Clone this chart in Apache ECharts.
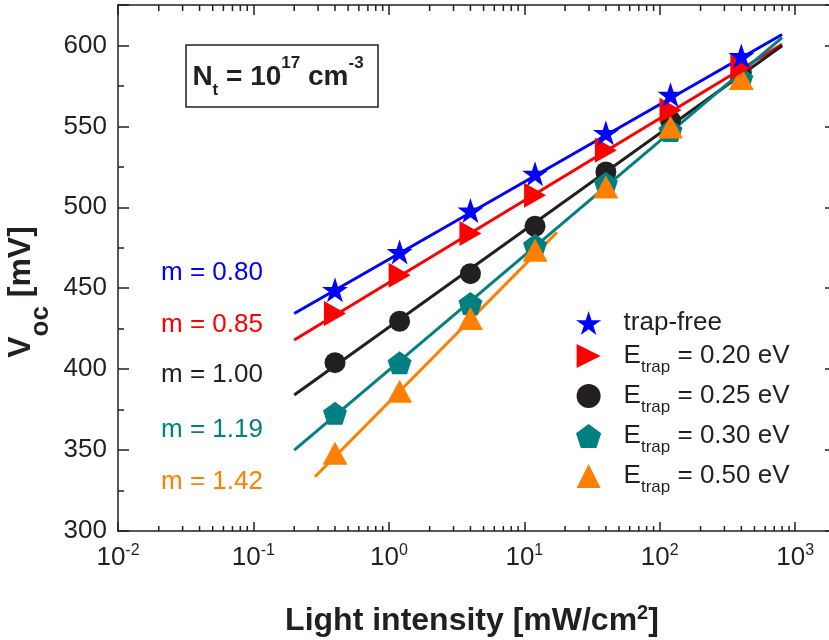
<!DOCTYPE html>
<html><head><meta charset="utf-8">
<script src="https://cdn.jsdelivr.net/npm/echarts@6/dist/echarts.min.js"></script>
<style>html,body{margin:0;padding:0;background:#fff}#c{width:829px;height:640px}</style>
</head><body><div id="c"></div>
<script>
// ---------- data ----------
const intensity = [0.4, 1.2, 4, 12, 40, 120, 400];
const vocTrapFree = [449, 472.4, 498, 520.8, 546, 569.5, 593.5];
const vocE020 = [434.4, 458, 483.8, 507.4, 535.2, 559.9, 586.6];
const vocE025 = [404, 429.6, 459, 488.3, 521.8, 553.7, 583.5];
const vocE030 = [372.7, 403.9, 440.6, 476.5, 514.8, 547.5, 579.6];
const vocE050 = [348, 386.4, 431.3, 473.5, 512.5, 549.6, 579.6];
// fitted lines (end points)
const fitTrapFreeX = [0.2, 800], fitTrapFreeY = [434.4, 606.8];
const fitE020X = [0.2, 800], fitE020Y = [418, 600.8];
const fitE025X = [0.2, 800], fitE025Y = [384, 599.8];
const fitE030X = [0.2, 800], fitE030Y = [350, 604.8];
const fitE050X = [0.285, 17.4], fitE050Y = [333.5, 484.5];
const slopeLabels = ['m = 0.80', 'm = 0.85', 'm = 1.00', 'm = 1.19', 'm = 1.42'];
const legendNames = ['trap-free', 'E020', 'E025', 'E030', 'E050'];
const legendTexts = ['trap-free', '0.20 eV', '0.25 eV', '0.30 eV', '0.50 eV'];
const minorXTicks = [0.02,0.03,0.04,0.05,0.06,0.07,0.08,0.09,
  0.2,0.3,0.4,0.5,0.6,0.7,0.8,0.9, 2,3,4,5,6,7,8,9,
  20,30,40,50,60,70,80,90, 200,300,400,500,600,700,800,900];
const xMin = 0.01, xMax = 2000, yMin = 300, yMax = 625;

// ---------- style ----------
const FONT = '"Liberation Sans", Arial, Helvetica, sans-serif';
const INK = '#231f20';
const COLORS = ['#0000ff', '#ff0000', '#231f20', '#008080', '#ff8000'];
const STAR = 'path://M0,-1 L0.2245,-0.309 L0.951,-0.309 L0.363,0.118 L0.588,0.809 L0,0.382 L-0.588,0.809 L-0.363,0.118 L-0.951,-0.309 L-0.2245,-0.309 Z';
const RTRI = 'path://M0,0 L1,0.5 L0,1 Z';
const UTRI = 'path://M0.5,0 L1,1 L0,1 Z';
const PENT = 'path://M0,-1 L0.951,-0.309 L0.588,0.809 L-0.588,0.809 L-0.951,-0.309 Z';
const SYMBOLS = [STAR, RTRI, 'circle', PENT, UTRI];
const SIZES = [[26, 25], [22, 25], 21, [24, 23], [25, 23]];

const pts = [vocTrapFree, vocE020, vocE025, vocE030, vocE050];
const fits = [[fitTrapFreeX, fitTrapFreeY], [fitE020X, fitE020Y], [fitE025X, fitE025Y], [fitE030X, fitE030Y], [fitE050X, fitE050Y]];

const series = [];
fits.forEach((f, i) => {
  series.push({
    type: 'line', name: 'fit' + i, data: f[0].map((x, k) => [x, f[1][k]]),
    showSymbol: false, symbol: 'none', lineStyle: { color: COLORS[i], width: 3 },
    z: 2, silent: true, xAxisIndex: 0, yAxisIndex: 0
  });
});
// scatter order: black, teal, orange, red, blue (last on top)
[2, 3, 4, 1, 0].forEach(i => {
  series.push({
    type: 'scatter', name: legendNames[i], data: intensity.map((x, k) => [x, pts[i][k]]),
    symbol: SYMBOLS[i], symbolSize: SIZES[i], symbolKeepAspect: false,
    itemStyle: { color: COLORS[i], opacity: 1 }, z: 3, xAxisIndex: 0, yAxisIndex: 0
  });
});
series.push({
  type: 'custom', name: 'minorTicks', data: minorXTicks.map(v => [v, yMin]), silent: true,
  xAxisIndex: 0, yAxisIndex: 0, clip: false, z: 5,
  renderItem: function (params, api) {
    const v = api.value(0);
    const b = api.coord([v, yMin]);
    const t = api.coord([v, yMax]);
    return { type: 'group', children: [
      { type: 'line', shape: { x1: b[0], y1: b[1], x2: b[0], y2: b[1] - 5 }, style: { stroke: INK, lineWidth: 1.5 } },
      { type: 'line', shape: { x1: t[0], y1: t[1], x2: t[0], y2: t[1] + 6 }, style: { stroke: INK, lineWidth: 1.5 } }
    ] };
  }
});

function xLabel(v) {
  const l = Math.log10(v); const e = Math.round(l);
  if (Math.abs(l - e) > 1e-6 || e > 3) return '';
  return '{b|10}{s|' + e + '}';
}

const axisLineStyle = { lineStyle: { color: INK, width: 1.5 } };
const option = {
  animation: false,
  backgroundColor: '#fff',
  grid: { left: 118, top: 5, right: -7, bottom: 109, containLabel: false, outerBoundsMode: 'none' },
  xAxis: [{
    type: 'log', logBase: 10, min: xMin, max: xMax, position: 'bottom',
    axisLine: axisLineStyle, splitLine: { show: false },
    axisTick: { inside: true, length: 9, lineStyle: { color: INK, width: 1.5 } },
    axisLabel: { margin: 12, formatter: xLabel, showMaxLabel: false, color: INK,
      rich: { b: { fontSize: 26, fontFamily: FONT, color: INK, lineHeight: 30 },
              s: { fontSize: 16, fontFamily: FONT, color: INK, lineHeight: 16, verticalAlign: 'top' } } },
    name: '{b|Light intensity [mW/cm}{s|2}{b|]}', nameLocation: 'middle', nameGap: 72,
    nameTextStyle: { padding: [0, 10, 0, 0], rich: {
      b: { fontSize: 32, fontWeight: 'bold', fontFamily: FONT, color: INK, lineHeight: 36 },
      s: { fontSize: 20, fontWeight: 'bold', fontFamily: FONT, color: INK, lineHeight: 14, verticalAlign: 'top' } } }
  }, {
    type: 'log', logBase: 10, min: xMin, max: xMax, position: 'top',
    axisLine: axisLineStyle, splitLine: { show: false },
    axisTick: { inside: true, length: 10, lineStyle: { color: INK, width: 1.5 } },
    axisLabel: { show: false }
  }],
  yAxis: [{
    type: 'value', min: yMin, max: yMax, interval: 50, position: 'left',
    axisLine: { show: true, lineStyle: { color: INK, width: 1.5 } }, splitLine: { show: false },
    axisTick: { inside: true, length: 11, lineStyle: { color: INK, width: 1.5 } },
    minorTick: { show: true, splitNumber: 2, length: 6, lineStyle: { color: INK, width: 1.5 } },
    axisLabel: { margin: 11, fontSize: 26, fontFamily: FONT, color: INK, showMaxLabel: false,
      formatter: v => (v % 50 === 0 ? String(v) : '') }
  }, {
    type: 'value', min: yMin, max: yMax, interval: 50, position: 'right',
    axisLine: { show: true, lineStyle: { color: INK, width: 1.5 } }, splitLine: { show: false },
    axisTick: { inside: true, length: 11, lineStyle: { color: INK, width: 1.5 } },
    minorTick: { show: true, splitNumber: 2, length: 6, lineStyle: { color: INK, width: 1.5 } },
    axisLabel: { show: false }
  }],
  legend: {
    orient: 'vertical', left: 576, top: 310, padding: 0, itemGap: 7,
    itemWidth: 60, itemHeight: 24, selectedMode: false,
    data: legendNames.map((n, i) => ({ name: n, icon: SYMBOLS[i] })),
    formatter: function (name) {
      const i = legendNames.indexOf(name);
      if (i === 0) return '{t|trap-free}';
      return '{e|E}{s|trap}{e| = ' + legendTexts[i] + '}';
    },
    textStyle: { color: INK, fontFamily: FONT, fontSize: 26, rich: {
      t: { fontSize: 26, fontFamily: FONT, color: INK, lineHeight: 22 },
      e: { fontSize: 26, fontFamily: FONT, color: INK, lineHeight: 40 },
      s: { fontSize: 17, fontFamily: FONT, color: INK, lineHeight: 17, verticalAlign: 'bottom' } } }
  },
  graphic: [
    { type: 'rect', shape: { x: 186, y: 45, width: 192, height: 62 }, style: { fill: 'none', stroke: INK, lineWidth: 1.5 }, z: 10 },
    { type: 'text', x: 278, y: 77, z: 10, style: {
      text: '{b|N}{sb|t}{b| = 10}{sp|17}{b| cm}{sp|-3}', align: 'center', verticalAlign: 'middle',
      textAlign: 'center', textVerticalAlign: 'middle',
      rich: { b: { fontSize: 28, fontWeight: 'bold', fontFamily: FONT, fill: INK, lineHeight: 44 },
              sb: { fontSize: 17, fontWeight: 'bold', fontFamily: FONT, fill: INK, lineHeight: 17, verticalAlign: 'bottom' },
              sp: { fontSize: 17, fontWeight: 'bold', fontFamily: FONT, fill: INK, lineHeight: 17, verticalAlign: 'top' } } } },
    { type: 'text', x: 21, y: 292, rotation: Math.PI / 2, z: 10, style: {
      text: '{b|V}{s|oc}{b| [mV]}', align: 'center', verticalAlign: 'middle',
      textAlign: 'center', textVerticalAlign: 'middle',
      rich: { b: { fontSize: 32, fontWeight: 'bold', fontFamily: FONT, fill: INK, lineHeight: 66 },
              s: { fontSize: 26, fontWeight: 'bold', fontFamily: FONT, fill: INK, lineHeight: 26, verticalAlign: 'bottom' } } } }
  ].concat(slopeLabels.map((t, i) => ({
    type: 'text', x: 161, y: [273, 325, 375, 430, 482][i], z: 10,
    style: { text: t, fill: COLORS[i], fontSize: 26, fontFamily: FONT, align: 'left', verticalAlign: 'middle',
      textAlign: 'left', textVerticalAlign: 'middle' }
  }))),
  series: series
};
const chart = echarts.init(document.getElementById('c'), null, { renderer: 'canvas' });
chart.setOption(option);
</script></body></html>
